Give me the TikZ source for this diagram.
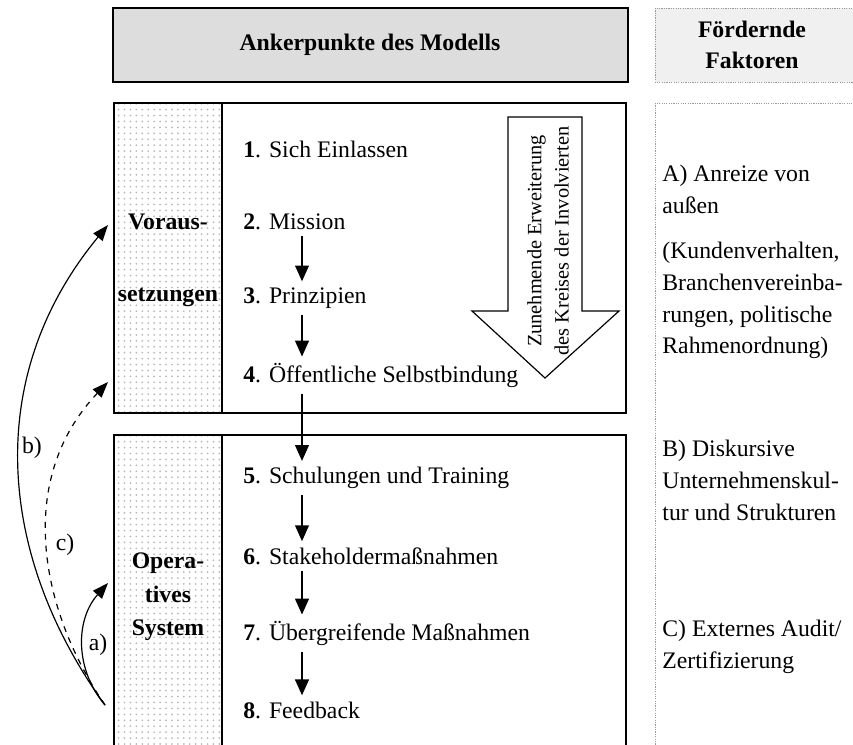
\documentclass[tikz,border=0pt]{standalone}
\usepackage{fontspec}
\setmainfont{Liberation Serif}
\usetikzlibrary{arrows.meta}
\usetikzlibrary{patterns}
\usetikzlibrary{calc}
\definecolor{headgray}{RGB}{221,221,221}
\definecolor{sidegray}{RGB}{240,240,240}
\tikzset{
  box/.style={draw,line width=0.9pt},
  dotcol/.style={draw,line width=0.9pt,preaction={fill=white},pattern=dots,pattern color=gray!55},
  sidebox/.style={draw=gray!80,line width=0.5pt,dash pattern=on 0.6pt off 0.6pt},
  flow/.style={-{Triangle[length=8pt,width=7pt]},line width=0.7pt},
  loop/.style={-{Triangle[length=8pt,width=6pt]},line width=0.6pt},
  item/.style={anchor=west,inner sep=3pt,font=\fontsize{12}{14}\selectfont},
  side/.style={anchor=north west,align=left,inner sep=0pt,font=\fontsize{12}{16}\selectfont},
  col/.style={align=center,font=\fontsize{12}{17}\selectfont\bfseries}
}
\begin{document}
\begin{tikzpicture}[x=0.506pt,y=-0.506pt]
    \useasboundingbox (0,0) rectangle (853,744);
    %% headers
    \draw[box,fill=headgray] (113,8) rectangle (628,82);
    \node[font=\fontsize{12}{14}\selectfont\bfseries] (head) at (370,45) {Ankerpunkte des Modells};
    \draw[sidebox,fill=sidegray] (655,8) rectangle (880,82);
    \node[col,font=\fontsize{12}{16}\selectfont\bfseries] (fhead) at (752,45) {Fördernde\\Faktoren};
    %% boxes
    \draw[box] (114,103) rectangle (626,413);
    \draw[dotcol] (114,103) rectangle (222,413);
    \draw[box] (114,435) rectangle (626,770);
    \draw[dotcol] (114,435) rectangle (222,770);
    \draw[sidebox] (655,103) rectangle (880,770);
    %% growing circle
    \draw[line width=0.6pt,fill=white] (508,117) -- (582,117) -- (582,311) -- (619,311)
      -- (545,378) -- (472,311) -- (508,311) -- cycle;
    \node[rotate=90,align=center,font=\fontsize{10.3}{13.7}\selectfont] (grow) at (548,241)
      {Zunehmende Erweiterung\\des Kreises der Involvierten};
    %% column labels
    \node[col] (vor1) at (168,222) {Voraus-};
    \node[col] (vor2) at (168,297) {setzungen};
    \node[col] (ops) at (168,597) {Opera-\\tives\\System};
    %% anchor points
    \node[item] (n1) at (237,149) {\textbf{1}. Sich Einlassen};
    \node[item] (n2) at (237,222) {\textbf{2}. Mission};
    \node[item] (n3) at (237,298) {\textbf{3}. Prinzipien};
    \node[item] (n4) at (237,375) {\textbf{4}. Öffentliche Selbstbindung};
    \node[item] (n5) at (237,478) {\textbf{5}. Schulungen und Training};
    \node[item] (n6) at (237,556) {\textbf{6}. Stakeholdermaßnahmen};
    \node[item] (n7) at (237,633) {\textbf{7}. Übergreifende Maßnahmen};
    \node[item] (n8) at (237,710) {\textbf{8}. Feedback};
    \foreach \a/\b in {n2/n3,n3/n4,n4/n5,n5/n6,n6/n7,n7/n8}
      \draw[flow] ($(\a.south west)+(65,0)$) -- ($(\b.north west)+(65,0)$);
    %% factors
    \node[side] (fa) at (662,165) {A) Anreize von\\außen\\[7pt]
      (Kundenverhalten,\\Branchenvereinba-\\rungen, politische\\Rahmenordnung)};
    \node[side] (fb) at (662,440) {B) Diskursive\\Unternehmenskul-\\tur und Strukturen};
    \node[side] (fc) at (662,620) {C) Externes Audit/\\Zertifizierung};
    %% feedback loops
    \coordinate (src) at (105,705);
    \coordinate (ta) at (108,583);
    \coordinate (tc) at (108,382);
    \coordinate (tb) at (108,225);
    \draw[loop] (src) .. controls (75,670) and (75,620) .. (ta);
    \draw[loop,dashed] (src) .. controls (40,610) and (15,480) .. (tc);
    \draw[loop] (src) .. controls (0,560) and (-20,380) .. (tb);
    \node[font=\fontsize{12}{14}\selectfont] (la) at (98,645) {a)};
    \node[font=\fontsize{12}{14}\selectfont] (lc) at (65,545) {c)};
    \node[font=\fontsize{12}{14}\selectfont] (lb) at (32,448) {b)};
  \end{tikzpicture}
\end{document}
